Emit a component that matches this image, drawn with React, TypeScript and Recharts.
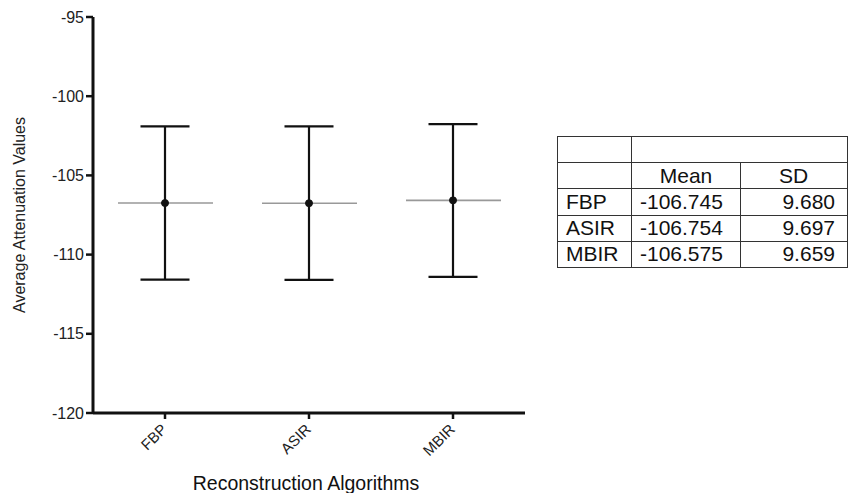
import React from 'react';
import { ComposedChart, Line, XAxis, YAxis, ErrorBar, Label } from 'recharts';

const categories = ['FBP', 'ASIR', 'MBIR'];
const means = [-106.745, -106.754, -106.575];
const upperWhisker = [-101.9, -101.9, -101.76];
const lowerWhisker = [-111.58, -111.6, -111.4];
const sds = ['9.680', '9.697', '9.659'];
const meanLabels = ['-106.745', '-106.754', '-106.575'];
const yTicks = [-120, -115, -110, -105, -100, -95];

const data = categories.map((name, i) => ({
  name,
  mean: means[i],
  err: [means[i] - lowerWhisker[i], upperWhisker[i] - means[i]],
}));

const FONT = '"Liberation Sans", Arial, sans-serif';

const MeanDot = (props: any) => {
  const { cx, cy } = props;
  if (cx == null || cy == null) return null;
  return (
    <g>
      <line x1={cx - 47} x2={cx + 48} y1={cy} y2={cy} stroke="#999" strokeWidth={1.6} />
      <circle cx={cx} cy={cy} r={3.5} fill="#111" stroke="#111" />
    </g>
  );
};

const XTick = (props: any) => {
  const { x, y, payload } = props;
  const ty = y + 5;
  return (
    <text
      x={x}
      y={ty}
      transform={`rotate(-45, ${x}, ${ty})`}
      textAnchor="end"
      dy={5}
      dx={-1}
      fontSize={15}
      fontFamily={FONT}
      fill="#222"
    >
      {payload.value}
    </text>
  );
};

const cell: React.CSSProperties = {
  border: '1.5px solid #333',
  padding: '0 6px',
  height: 25.2,
  fontSize: 21,
  fontFamily: FONT,
  color: '#111',
  lineHeight: '22px',
  whiteSpace: 'nowrap',
};

export default function App() {
  return (
    <div style={{ position: 'absolute', left: 0, top: 0, width: 848, height: 493, background: '#fff' }}>
      <ComposedChart
        width={848}
        height={493}
        data={data}
        margin={{ top: 17, right: 323, bottom: 0, left: 0 }}
      >
        <XAxis
          dataKey="name"
          type="category"
          scale="band"
          height={80}
          tick={<XTick />}
          tickLine={{ stroke: '#111', strokeWidth: 2.5 }}
          tickSize={6}
          axisLine={{ stroke: '#111', strokeWidth: 3 }}
          interval={0}
        >
          <Label
            value="Reconstruction Algorithms"
            position="insideBottom"
            offset={3}
            dx={-3}
            style={{ fontSize: 19.5, fontFamily: FONT, fill: '#111' }}
          />
        </XAxis>
        <YAxis
          type="number"
          domain={[-120, -95]}
          ticks={yTicks}
          width={93}
          tick={{ fontSize: 16, fontFamily: FONT, fill: '#222' }}
          tickLine={{ stroke: '#111', strokeWidth: 2.5 }}
          tickSize={7}
          axisLine={{ stroke: '#111', strokeWidth: 3 }}
          allowDataOverflow
        >
          <Label
            value="Average Attenuation Values"
            angle={-90}
            position="insideLeft"
            offset={19}
            style={{ fontSize: 16, fontFamily: FONT, fill: '#222', textAnchor: 'middle' }}
          />
        </YAxis>
        <Line
          dataKey="mean"
          stroke="none"
          isAnimationActive={false}
          dot={<MeanDot />}
          activeDot={false}
        >
          <ErrorBar dataKey="err" width={24.5} stroke="#111" strokeWidth={2.2} direction="y" />
        </Line>
      </ComposedChart>
      <table
        style={{
          position: 'absolute',
          left: 557,
          top: 136,
          borderCollapse: 'collapse',
          width: 290,
          tableLayout: 'fixed',
        }}
      >
        <colgroup>
          <col style={{ width: 74 }} />
          <col style={{ width: 109 }} />
          <col style={{ width: 107 }} />
        </colgroup>
        <tbody>
          <tr>
            <td style={cell}></td>
            <td style={cell} colSpan={2}></td>
          </tr>
          <tr>
            <td style={cell}></td>
            <td style={{ ...cell, textAlign: 'center' }}>Mean</td>
            <td style={{ ...cell, textAlign: 'left', paddingLeft: 38 }}>SD</td>
          </tr>
          {categories.map((c, i) => (
            <tr key={c}>
              <td style={{ ...cell, paddingLeft: 8 }}>{c}</td>
              <td style={{ ...cell, paddingLeft: 8 }}>{meanLabels[i]}</td>
              <td style={{ ...cell, textAlign: 'right', paddingRight: 12 }}>{sds[i]}</td>
            </tr>
          ))}
        </tbody>
      </table>
    </div>
  );
}
